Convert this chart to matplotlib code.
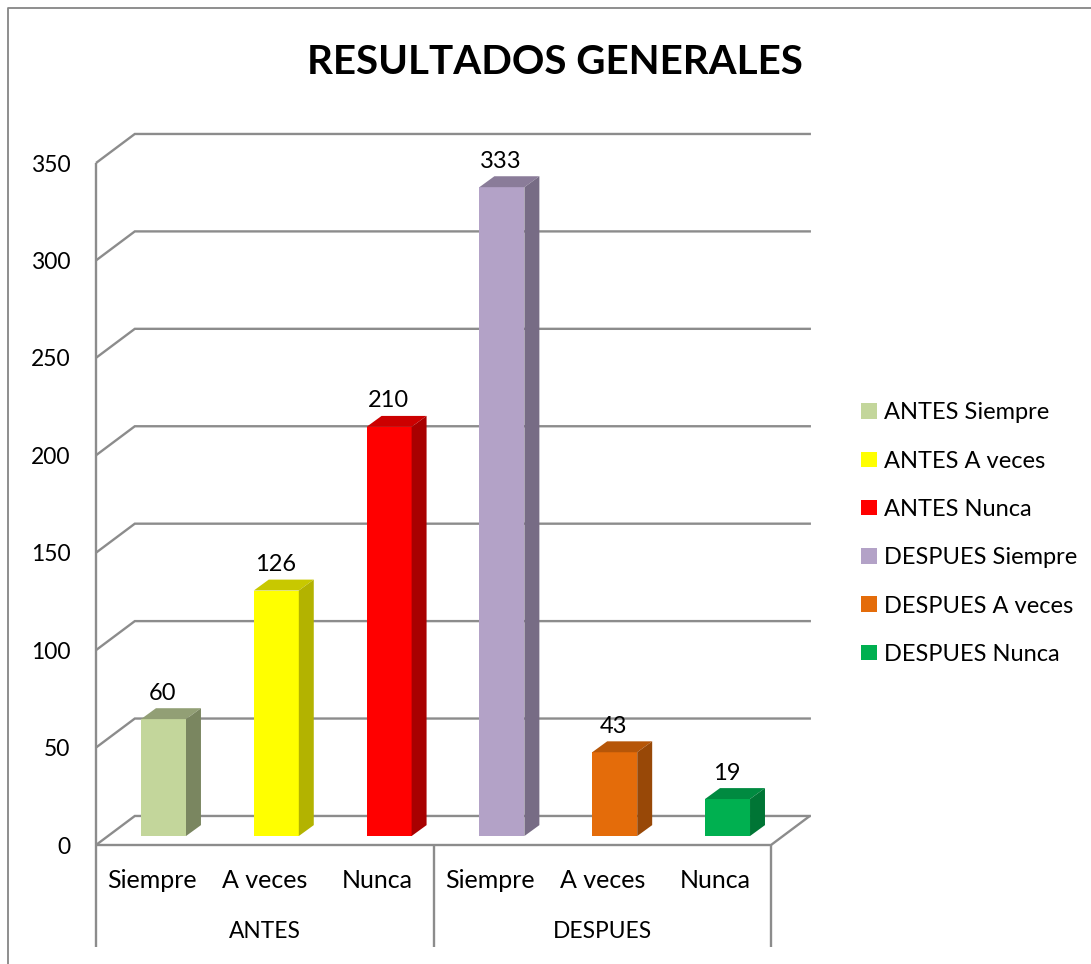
import matplotlib
matplotlib.use('Agg')
import matplotlib.pyplot as plt
from matplotlib.patches import Patch

# data
groups = ['ANTES', 'DESPUES']
categories = ['Siempre', 'A veces', 'Nunca', 'Siempre', 'A veces', 'Nunca']
values = [60, 126, 210, 333, 43, 19]
series = ['ANTES Siempre', 'ANTES A veces', 'ANTES Nunca',
          'DESPUES Siempre', 'DESPUES A veces', 'DESPUES Nunca']
y_ticks = [0, 50, 100, 150, 200, 250, 300, 350]

front = ['#C3D69B', '#FFFF00', '#FF0000', '#B3A2C7', '#E46C0A', '#00B050']
top = ['#929F75', '#C8C800', '#CC0000', '#8A7C99', '#B65608', '#008A40']
side = ['#7A8660', '#B3B300', '#A80000', '#776C85', '#984807', '#007535']

plt.rcParams['font.family'] = ['Lato', 'DejaVu Sans']
W, H = 1091, 964
fig = plt.figure(figsize=(W / 100, H / 100), dpi=100, facecolor='white')

# axes box = front plane of the chart, in pixels of the reference
x0, x1, y0, y1 = 96, 771, 845, 163
ax = fig.add_axes([x0 / W, 1 - y0 / H, (x1 - x0) / W, (y0 - y1) / H])
ax.set_xlim(0, 6)
ax.set_ylim(0, 350)
ax.axis('off')

grey = '#8C8C8C'
depth_x, depth_y = 0.345, 14.9
line = dict(color=grey, lw=1.7, clip_on=False, solid_capstyle='butt', solid_joinstyle='miter')

# walls and grid
for v in y_ticks:
    ax.plot([0, depth_x, 6 + depth_x + 0.01], [v, v + depth_y, v + depth_y], zorder=1, **line)
    ax.annotate(str(v), (0, v), xytext=(-25.5 * 0.72, -2 * 0.72), textcoords='offset points',
                ha='right', va='center', fontsize=16.5, annotation_clip=False)
ax.plot([0, 0], [0, 350], zorder=1, **line)
ax.plot([0, 6, 6 + depth_x], [0, 0, depth_y], zorder=1, **line)

# category separators below the axis
for x in [0, 3, 6]:
    ax.plot([x, x], [0, -52.3], zorder=1, **line)
for i, c in enumerate(categories):
    ax.annotate(c, (i + 0.5, 0), xytext=(0, -35 * 0.72), textcoords='offset points',
                ha='center', va='center', fontsize=18, annotation_clip=False)
for i, g in enumerate(groups):
    ax.annotate(g, (3 * i + 1.5, 0), xytext=(0, -87 * 0.72), textcoords='offset points',
                ha='center', va='center', fontsize=16.4, annotation_clip=False)

# bars with fake depth
bar_w = 0.4
bar_step = 1.0027
off_x, off_y = 0.1, 4.6
bar_dx, bar_dy = 0.133, 5.6
for i, v in enumerate(values):
    l = 0.5 + i * bar_step + off_x - bar_w / 2
    r = l + bar_w
    b = off_y
    t = off_y + v
    ax.fill([l, r, r, l], [b, b, t, t], color=front[i], lw=0, zorder=3, clip_on=False)
    ax.fill([l, r, r + bar_dx, l + bar_dx], [t, t, t + bar_dy, t + bar_dy], color=top[i], lw=0, zorder=3, clip_on=False)
    ax.fill([r, r + bar_dx, r + bar_dx, r], [b, b + bar_dy, t + bar_dy, t], color=side[i], lw=0, zorder=3, clip_on=False)
    ax.annotate(str(v), ((l + r) / 2 - 0.008, t + bar_dy), xytext=(0, 15 * 0.72), textcoords='offset points',
                ha='center', va='center', fontsize=17, annotation_clip=False, zorder=4)

# outer frame, only top and left show in the picture
fig.add_artist(plt.Line2D([8 / W, 8 / W, 1], [0, 1 - 8 / H, 1 - 8 / H], color='#868686', lw=1.3))

fig.text(555 / W, 1 - 62 / H, 'RESULTADOS GENERALES', ha='center', va='center',
         fontsize=29, fontweight='bold', color='black')

handles = [Patch(color=c, lw=0) for c in front]
fig.legend(handles, series, loc='upper left', bbox_to_anchor=(852 / W, 1 - 393 / H),
           frameon=False, fontsize=17, handlelength=0.64, handleheight=0.64,
           handletextpad=0.3, labelspacing=1.155, borderpad=0.4, borderaxespad=0)

fig.savefig('out.png', dpi=100)
